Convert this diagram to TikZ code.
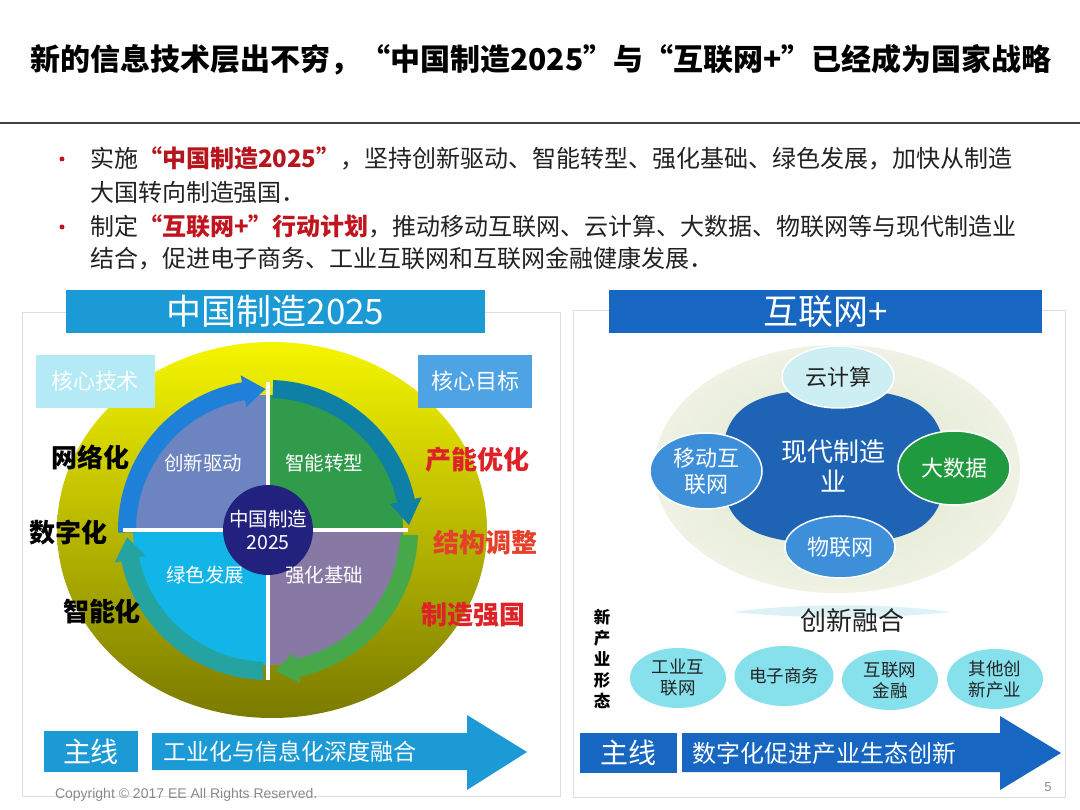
\documentclass[tikz,border=0pt]{standalone}
\usepackage{fontspec}
\setmainfont{Noto Sans CJK SC}
\newfontfamily\latinfont{Liberation Sans}
\usetikzlibrary{shapes.geometric}
\newcommand\fsz[2]{\fontsize{#1}{#2}\selectfont}
\definecolor{txt}{HTML}{222222}
\definecolor{bulred}{HTML}{C0141E}
\definecolor{hl}{HTML}{B5161D}
\definecolor{barL}{HTML}{1B9AD6}
\definecolor{barR}{HTML}{1766C1}
\definecolor{yelTop}{HTML}{F5F500}
\definecolor{yelMid}{HTML}{CFCF05}
\definecolor{yelBot}{HTML}{7A7A00}
\definecolor{qTL}{HTML}{6C84BF}
\definecolor{qTR}{HTML}{2F9B4B}
\definecolor{qBL}{HTML}{12B5E8}
\definecolor{qBR}{HTML}{8779A3}
\definecolor{aTL}{HTML}{1E80D8}
\definecolor{aTR}{HTML}{0E7FA5}
\definecolor{aBR}{HTML}{47A84A}
\definecolor{aBL}{HTML}{25A3A0}
\definecolor{navy}{HTML}{22227E}
\definecolor{techbox}{HTML}{B3EAF5}
\definecolor{goalbox}{HTML}{4DA3E3}
\definecolor{redA}{HTML}{DD2228}
\definecolor{redB}{HTML}{E4402A}
\definecolor{paleIn}{HTML}{DCE4C8}
\definecolor{paleOut}{HTML}{EFF2E4}
\definecolor{midblue}{HTML}{1F63B5}
\definecolor{cloud}{HTML}{CDEFF4}
\definecolor{ballblue}{HTML}{3D8FDA}
\definecolor{ballgreen}{HTML}{1F9A3E}
\definecolor{lightcyan}{HTML}{86E1EC}
\definecolor{glow}{HTML}{DDF2F6}
\definecolor{cpgray}{HTML}{8A8A8A}
\tikzset{
  lbl/.style={inner sep=0pt, outer sep=0pt},
  panel/.style={draw=black!13, line width=1pt, fill=white},
  hbar/.style={inner sep=0pt, minimum height=43pt, text=white, font=\fsz{35}{40}},
  bullettext/.style={lbl, anchor=west, text=txt, font=\fsz{24}{28}},
  qtext/.style={lbl, text=white, font=\fsz{19.5}{23}},
  sidetext/.style={lbl, font=\bfseries\fsz{26}{30}},
  ball/.style={ellipse, draw=white, line width=1.5pt, inner sep=0pt, align=center, font=\fsz{22}{26}},
  smallball/.style={ellipse, fill=lightcyan, inner sep=0pt, minimum width=96pt, minimum height=60pt, align=center, text=txt, font=\fsz{17.5}{21}},
  mainbox/.style={inner sep=0pt, text=white, font=\fsz{28}{32}},
}
\newcommand\ringarrow[4]{%
  \fill[#1] (#2:150) arc[start angle=#2, end angle=#3, radius=150] -- (#3:157) -- (#4:141) -- (#3:125) -- (#3:132) arc[start angle=#3, end angle=#2, radius=132] -- cycle;}
\begin{document}
\begin{tikzpicture}[x=1pt, y=1pt]
\useasboundingbox (0,0) rectangle (1080,-810);
\fill[white] (0,0) rectangle (1080,-810);

% title
\node[lbl, font=\bfseries\fsz{30}{36}, text=black] (title) at (541,-60) {新的信息技术层出不穷，“中国制造2025”与“互联网+”已经成为国家战略};
\draw[line width=2pt, black!75] (0,-123) -- (1080,-123);

% bullets
\node[circle, fill=bulred, inner sep=0pt, minimum size=5pt] (d1) at (62,-159) {};
\node[circle, fill=bulred, inner sep=0pt, minimum size=5pt] (d2) at (62,-227) {};
\node[bullettext] (b1) at (90,-158) {实施{\color{hl}\bfseries “中国制造2025”}，坚持创新驱动、智能转型、强化基础、绿色发展，加快从制造};
\node[bullettext] (b2) at (90,-192) {大国转向制造强国．};
\node[bullettext] (b3) at (90,-226) {制定{\color{bulred}\bfseries “互联网+”行动计划}，推动移动互联网、云计算、大数据、物联网等与现代制造业};
\node[bullettext] (b4) at (90,-259) {结合，促进电子商务、工业互联网和互联网金融健康发展．};

% panels
\draw[panel] (22,-313) rectangle (560,-796);
\draw[panel] (573,-311) rectangle (1065,-797);

% headers
\node[hbar, fill=barL, minimum width=419pt] (hL) at (275.5,-311.5) {中国制造2025};
\node[hbar, fill=barR, minimum width=433pt] (hR) at (825.5,-311.5) {互联网+};

% ===== left: big disk
\shade[top color=yelTop, middle color=yelMid, bottom color=yelBot] (272,-530) ellipse [x radius=215, y radius=188];

\node[lbl, fill=techbox, minimum width=119pt, minimum height=53pt, text=white, font=\fsz{22}{26}] (tech) at (95,-381.5) {核心技术};
\node[lbl, fill=goalbox, minimum width=114pt, minimum height=53pt, text=white, font=\fsz{22}{26}] (goal) at (475,-381.5) {核心目标};

\begin{scope}[shift={(268,-530)}]
  \fill[qTL] (0,0) -- (90:135) arc[start angle=90, end angle=180, radius=135] -- cycle;
  \fill[qTR] (0,0) -- (0:135) arc[start angle=0, end angle=90, radius=135] -- cycle;
  \fill[qBL] (0,0) -- (180:135) arc[start angle=180, end angle=270, radius=135] -- cycle;
  \fill[qBR] (0,0) -- (270:135) arc[start angle=270, end angle=360, radius=135] -- cycle;
  \ringarrow{aTL}{181}{100}{91}
  \ringarrow{aTR}{88}{12}{2}
  \ringarrow{aBR}{-2}{-78}{-87}
  \ringarrow{aBL}{-92}{-168}{-177}
  \draw[white, line width=4pt] (-145,0) -- (140,0);
  \draw[white, line width=4pt] (0,148) -- (0,-150);
\end{scope}
\node[circle, fill=navy, minimum size=90pt, inner sep=0pt, align=center, text=white, font=\fsz{19.5}{23}] (core) at (268,-530) {中国制造\\2025};

\node[qtext] (q1) at (203,-463) {创新驱动};
\node[qtext] (q2) at (324,-463) {智能转型};
\node[qtext] (q3) at (205,-575) {绿色发展};
\node[qtext] (q4) at (324,-575) {强化基础};

\node[sidetext, text=black] (s1) at (90,-457) {网络化};
\node[sidetext, text=black] (s2) at (69,-533) {数字化};
\node[sidetext, text=black] (s3) at (102,-612) {智能化};
\node[sidetext, text=redA] (g1) at (477,-460) {产能优化};
\node[sidetext, text=redB] (g2) at (485,-543) {结构调整};
\node[sidetext, text=redA] (g3) at (473,-615) {制造强国};

% ===== right: ecosystem
\shade[inner color=paleIn, outer color=paleOut] (837,-469) ellipse [x radius=183, y radius=124];
\begin{scope}[shift={(833.5,-466.5)}]
  \fill[midblue] (-112,0) .. controls (-112,58) and (-84,77) .. (0,77) .. controls (84,77) and (112,58) .. (112,0) .. controls (112,-58) and (84,-77) .. (0,-77) .. controls (-84,-77) and (-112,-58) .. (-112,0) -- cycle;
\end{scope}
\node[lbl, align=center, text=white, font=\fsz{26}{30}] (mfg) at (833,-466) {现代制造\\业};
\node[ball, fill=cloud, text=txt, minimum width=112pt, minimum height=62pt] (cloudc) at (838,-377) {云计算};
\node[ball, fill=ballblue, text=white, minimum width=112pt, minimum height=76pt] (mobile) at (706,-471) {移动互\\联网};
\node[ball, fill=ballgreen, text=white, minimum width=112pt, minimum height=74pt] (bigdata) at (954,-468) {大数据};
\node[ball, fill=ballblue, text=white, minimum width=110pt, minimum height=62pt] (iot) at (840,-547) {物联网};

\fill[glow] (733,-612) .. controls (800,-603) and (885,-603) .. (950,-612) .. controls (885,-619) and (800,-619) .. (733,-612) -- cycle;
\node[lbl, text=txt, font=\fsz{26}{30}] (fusion) at (852,-621) {创新融合};

\node[lbl, align=center, text=black, font=\bfseries\fsz{16.5}{20.8}] (newind) at (602,-659) {新\\产\\业\\形\\态};

\node[smallball] (e1) at (678,-678) {工业互\\联网};
\node[smallball] (e2) at (784,-676) {电子商务};
\node[smallball] (e3) at (890,-680) {互联网\\金融};
\node[smallball] (e4) at (995,-679) {其他创\\新产业};

% ===== bottom main lines
\node[mainbox, fill=barL, minimum width=94pt, minimum height=41pt] (zxL) at (91,-751.5) {主线};
\fill[barL] (152,-733) -- (467,-733) -- (467,-715) -- (527,-752) -- (467,-790) -- (467,-770) -- (152,-770) -- cycle;
\node[lbl, anchor=west, text=white, font=\fsz{23}{27}] (mlL) at (163,-752) {工业化与信息化深度融合};

\node[mainbox, fill=barR, minimum width=97pt, minimum height=40pt] (zxR) at (628.5,-753) {主线};
\fill[barR] (682,-733) -- (1000,-733) -- (1000,-716) -- (1061,-753) -- (1000,-790) -- (1000,-772) -- (682,-772) -- cycle;
\node[lbl, anchor=west, text=white, font=\fsz{24}{28}] (mlR) at (692,-753) {数字化促进产业生态创新};

\node[lbl, anchor=west, text=cpgray, font=\latinfont\fsz{14}{16}] (cp) at (55,-795) {Copyright © 2017 EE All Rights Reserved.};
\node[lbl, text=cpgray, font=\latinfont\fsz{13}{15}] (pg) at (1048,-787) {5};
\end{tikzpicture}
\end{document}
